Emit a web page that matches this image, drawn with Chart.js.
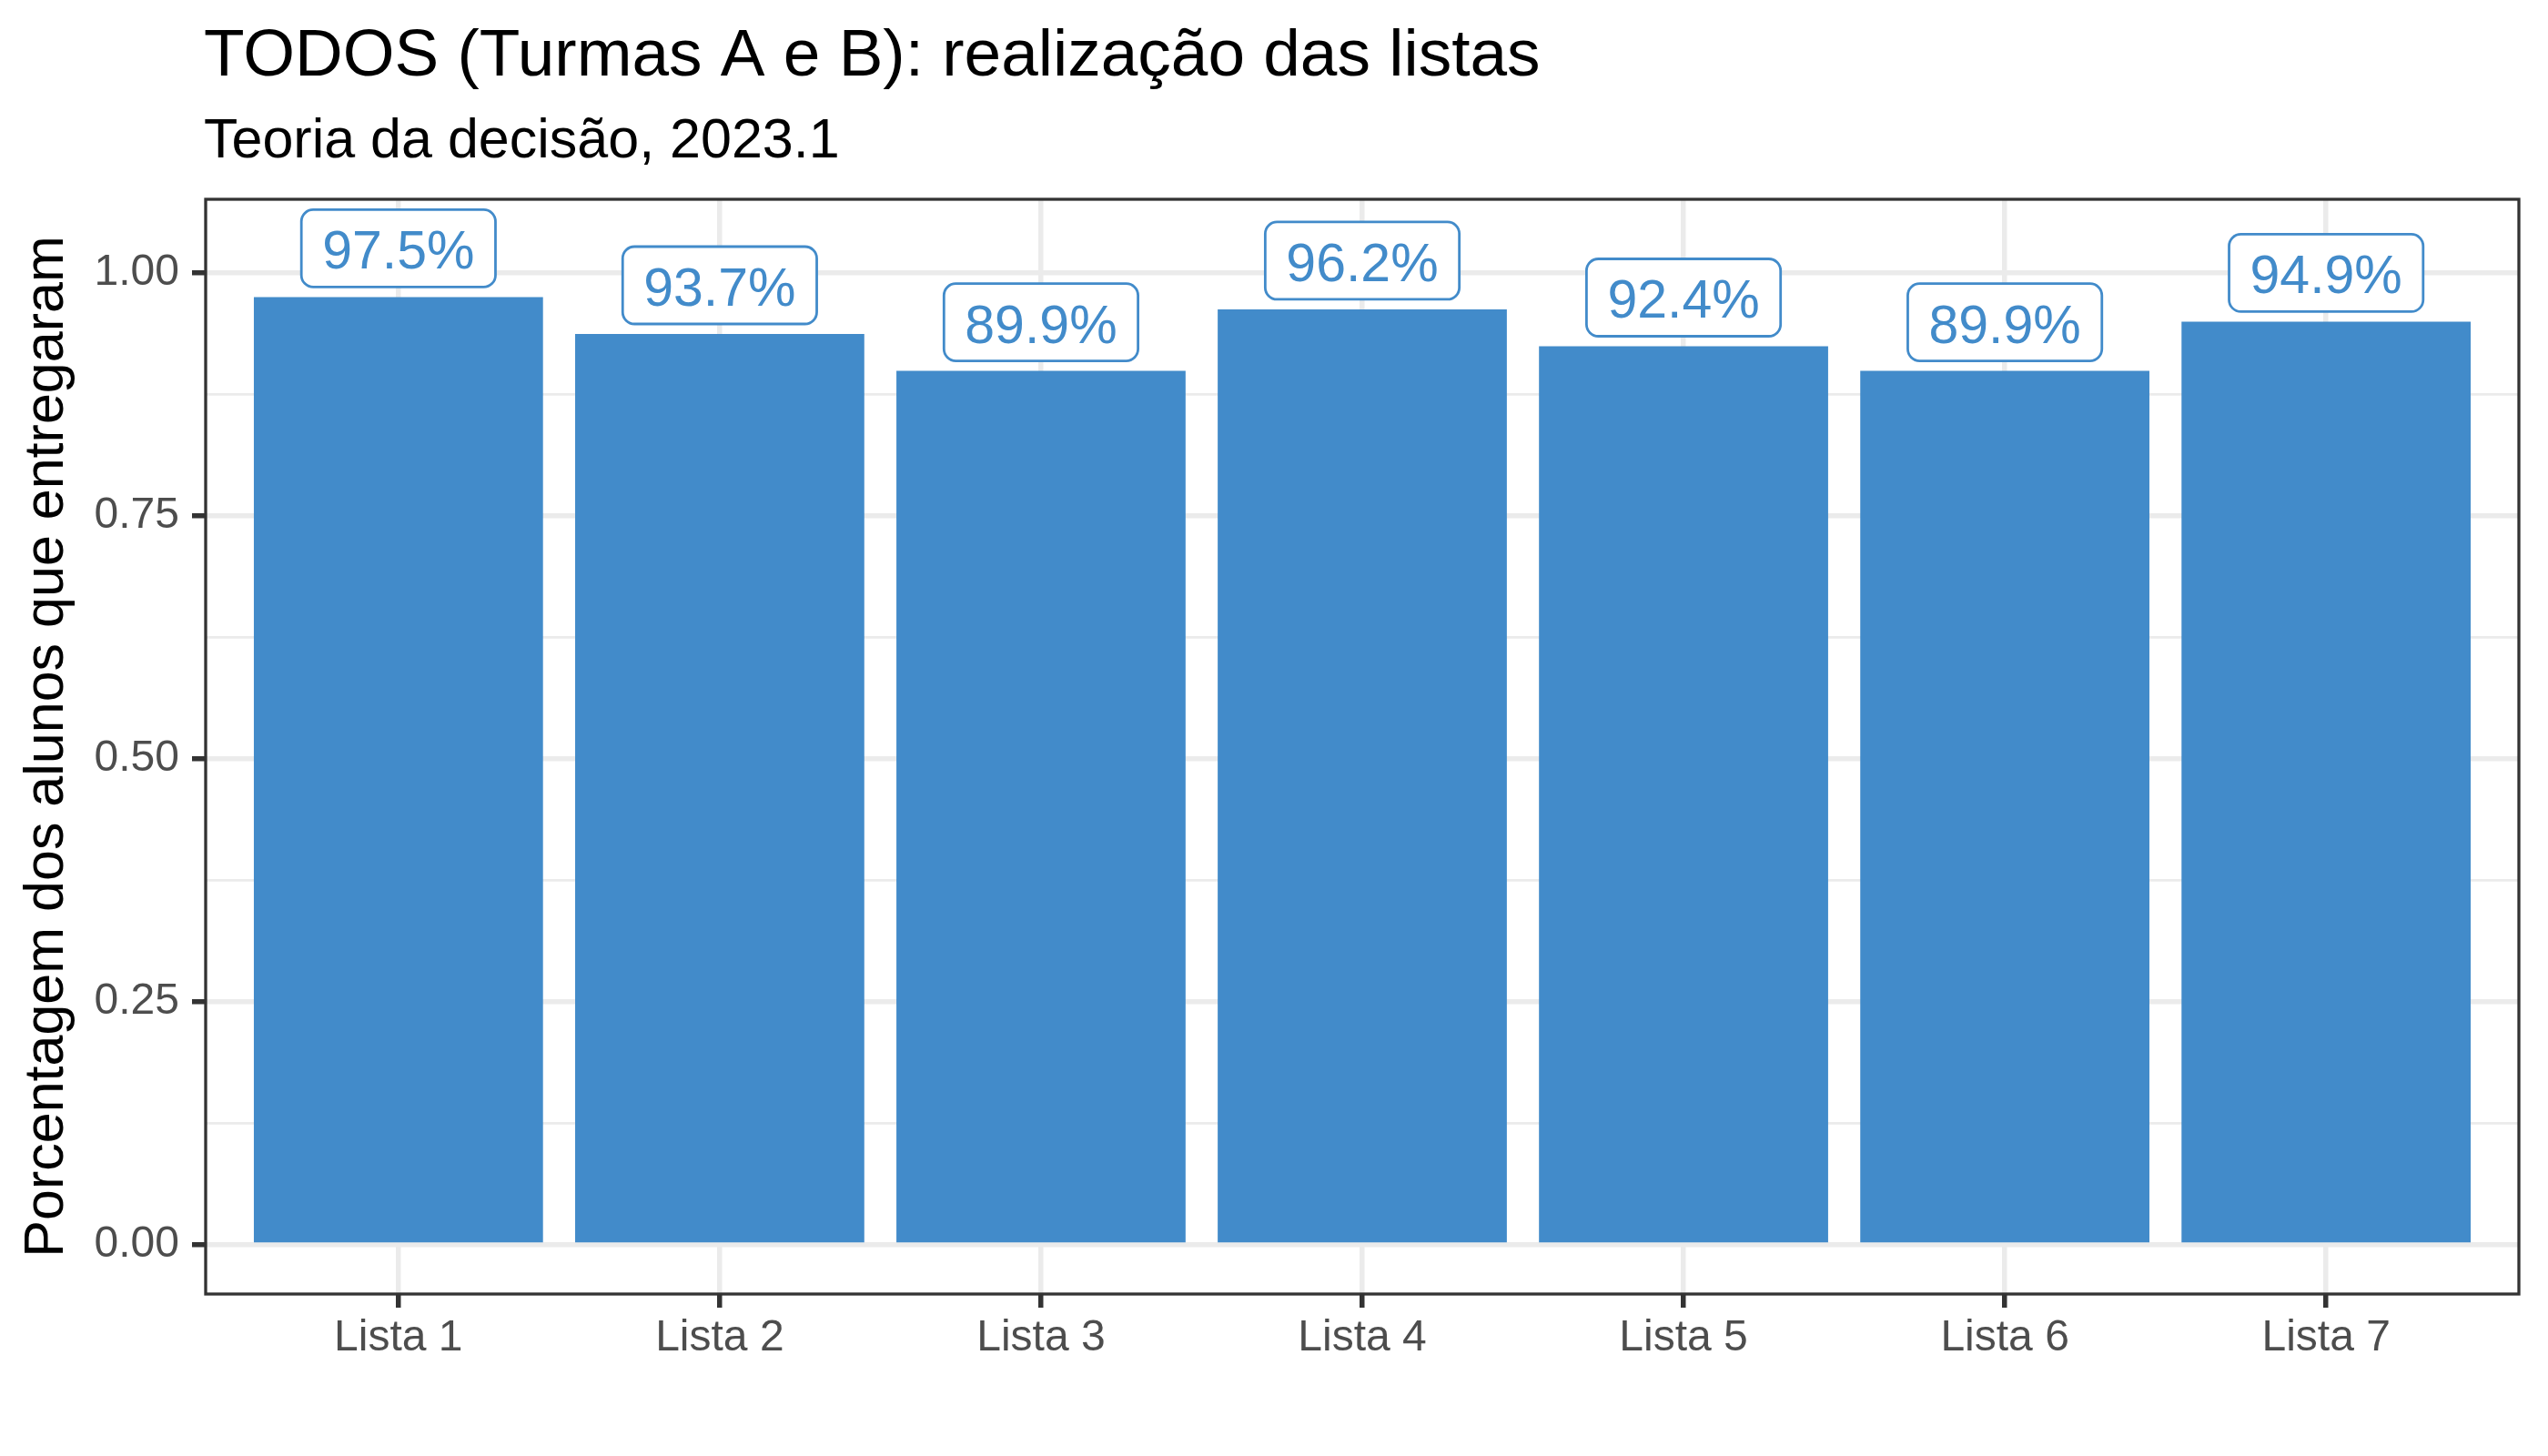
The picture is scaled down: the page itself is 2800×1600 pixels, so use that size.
<!DOCTYPE html>
<html>
<head>
<meta charset="utf-8">
<script src="https://cdn.jsdelivr.net/npm/chart.js@4/dist/chart.umd.min.js"></script>
<style>
  html, body { margin: 0; padding: 0; background: #ffffff; }
  #wrap { width: 2800px; height: 1600px; position: relative; }
</style>
</head>
<body>
<div id="wrap"><canvas id="c" width="2800" height="1600"></canvas></div>
<script>
// ---- data ----
const chartTitle = 'TODOS (Turmas A e B): realização das listas';
const chartSubtitle = 'Teoria da decisão, 2023.1';
const yAxisTitle = 'Porcentagem dos alunos que entregaram';
const categories = ['Lista 1', 'Lista 2', 'Lista 3', 'Lista 4', 'Lista 5', 'Lista 6', 'Lista 7'];
const positions = [1, 2, 3, 4, 5, 6, 7];
const shareDelivered = [0.9747, 0.9367, 0.8987, 0.9620, 0.9241, 0.8987, 0.9494];
const barLabels = ['97.5%', '93.7%', '89.9%', '96.2%', '92.4%', '89.9%', '94.9%'];
const yTickValues = [0, 0.25, 0.5, 0.75, 1.0];
const yTickLabels = ['0.00', '0.25', '0.50', '0.75', '1.00'];
const yMinorValues = [0.125, 0.375, 0.625, 0.875];

// ---- style ----
const FONT = '"Liberation Sans", Arial, Helvetica, sans-serif';
const BLUE = '#428bca';
const GRID = '#ebebeb';
const DARK = '#333333';

const isMajor = v => yTickValues.some(t => Math.abs(t - v) < 1e-9);

const titlePlugin = {
  id: 'ggTitles',
  afterDraw(chart) {
    const ctx = chart.ctx;
    const left = chart.chartArea.left;
    ctx.save();
    ctx.fillStyle = '#000000';
    ctx.textAlign = 'left';
    ctx.textBaseline = 'alphabetic';
    ctx.font = '73px ' + FONT;
    ctx.fillText(chartTitle, left - 2, 83);
    ctx.font = '61px ' + FONT;
    ctx.fillText(chartSubtitle, left - 2, 173);
    ctx.restore();
  }
};

const borderPlugin = {
  id: 'panelBorder',
  afterDatasetsDraw(chart) {
    const { left, top, right, bottom } = chart.chartArea;
    const ctx = chart.ctx;
    ctx.save();
    ctx.strokeStyle = DARK;
    ctx.lineWidth = 3.3;
    ctx.strokeRect(left, top, right - left, bottom - top);
    ctx.restore();
  }
};

const labelPlugin = {
  id: 'barLabels',
  afterDatasetsDraw(chart) {
    const ctx = chart.ctx;
    const meta = chart.getDatasetMeta(0);
    ctx.save();
    ctx.font = '59px ' + FONT;
    meta.data.forEach((el, i) => {
      const txt = barLabels[i];
      const w = ctx.measureText(txt).width + 46;
      const h = 85;
      const bottom = el.y - 11;
      const x0 = el.x - w / 2;
      const y0 = bottom - h;
      ctx.beginPath();
      ctx.roundRect(x0, y0, w, h, 13);
      ctx.fillStyle = '#ffffff';
      ctx.fill();
      ctx.lineWidth = 2.8;
      ctx.strokeStyle = BLUE;
      ctx.stroke();
      ctx.fillStyle = BLUE;
      ctx.textAlign = 'center';
      ctx.textBaseline = 'alphabetic';
      ctx.fillText(txt, el.x, bottom - 20);
    });
    ctx.restore();
  }
};

new Chart(document.getElementById('c'), {
  type: 'bar',
  data: {
    datasets: [{
      data: positions.map((p, i) => ({ x: p, y: shareDelivered[i] })),
      backgroundColor: BLUE,
      borderWidth: 0,
      categoryPercentage: 1.0,
      barPercentage: 0.9
    }]
  },
  options: {
    responsive: false,
    animation: false,
    devicePixelRatio: 1,
    layout: { padding: { top: 219, right: 32, left: 0, bottom: 0 } },
    plugins: {
      legend: { display: false },
      tooltip: { enabled: false },
      title: { display: false }
    },
    scales: {
      x: {
        type: 'linear',
        min: 0.4,
        max: 7.6,
        offset: false,
        afterBuildTicks: axis => { axis.ticks = positions.map(v => ({ value: v })); },
        afterFit: scale => { scale.height = 178; },
        ticks: {
          autoSkip: false,
          maxRotation: 0,
          padding: 5,
          color: '#4d4d4d',
          font: { family: FONT, size: 48 },
          callback: v => categories[positions.indexOf(v)]
        },
        grid: {
          offset: false,
          color: GRID,
          lineWidth: 5.5,
          drawTicks: true,
          tickLength: 15,
          tickColor: DARK,
          tickWidth: 5.5
        },
        border: { display: false }
      },
      y: {
        type: 'linear',
        min: -0.0505,
        max: 1.0752,
        afterBuildTicks: axis => {
          axis.ticks = yTickValues.concat(yMinorValues).sort((a, b) => a - b).map(v => ({ value: v }));
        },
        afterFit: scale => { scale.width = 226; },
        ticks: {
          autoSkip: false,
          padding: 14,
          color: '#4d4d4d',
          font: { family: FONT, size: 48 },
          callback: v => {
            const k = yTickValues.findIndex(t => Math.abs(t - v) < 1e-9);
            return k >= 0 ? yTickLabels[k] : '';
          }
        },
        grid: {
          color: GRID,
          lineWidth: c => isMajor(c.tick.value) ? 5.5 : 2.8,
          drawTicks: true,
          tickLength: 15,
          tickColor: c => isMajor(c.tick.value) ? DARK : 'rgba(0,0,0,0)',
          tickWidth: 5.5
        },
        border: { display: false },
        title: {
          display: true,
          text: yAxisTitle,
          color: '#000000',
          font: { family: FONT, size: 61 },
          padding: { top: 16, bottom: 0 }
        }
      }
    }
  },
  plugins: [titlePlugin, borderPlugin, labelPlugin]
});
</script>
</body>
</html>
